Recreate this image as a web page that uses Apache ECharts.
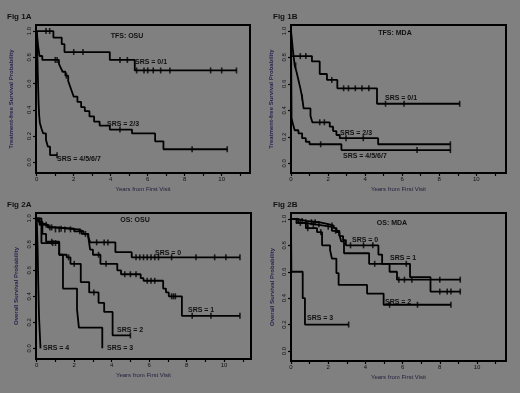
<!DOCTYPE html>
<html>
<head>
<meta charset="utf-8">
<script src="https://cdn.jsdelivr.net/npm/echarts@6/dist/echarts.min.js"></script>
<style>
    html, body { margin: 0; padding: 0; background: #808080; }
    #km-chart { width: 520px; height: 393px; }
</style>
</head>
<body>
<div id="km-chart"></div>
<script>
// tick values
const xTicks = [0, 1, 2, 3, 4, 5, 6, 7, 8, 9, 10, 11];
const xLabels = [0, 2, 4, 6, 8, 10];
const yTicks = [0, 0.2, 0.4, 0.6, 0.8, 1.0];

// Fig 1A - TFS: OSU  ([years, survival])
const tfsOsuSrs01 = [[0,1],[0.9,0.95],[1.35,0.90],[1.5,0.84],[3.95,0.78],[5.3,0.70],[10.8,0.70]];
const tfsOsuSrs01Cens = [0.5,0.7,2.0,2.5,4.5,4.9,5.4,5.8,6.0,6.3,6.7,7.2,9.4,10.0,10.8];
const tfsOsuSrs23 = [[0,1],[0.03,0.95],[0.08,0.88],[0.15,0.81],[0.3,0.78],[1.2,0.75],[1.3,0.72],[1.4,0.69],[1.55,0.66],[1.7,0.62],[1.8,0.58],[1.9,0.54],[2.0,0.50],[2.2,0.46],[2.4,0.42],[2.6,0.39],[2.85,0.35],[3.1,0.31],[3.4,0.28],[3.95,0.25],[5.15,0.22],[6.4,0.16],[6.85,0.10],[10.3,0.10]];
const tfsOsuSrs23Cens = [1.0,1.1,1.6,4.5,8.4,10.3];
const tfsOsuSrs4567 = [[0,1],[0.02,0.9],[0.04,0.78],[0.06,0.66],[0.08,0.55],[0.1,0.45],[0.13,0.36],[0.17,0.30],[0.25,0.26],[0.35,0.22],[0.5,0.17],[0.6,0.12],[0.72,0.055],[1.1,0.055]];
const tfsOsuSrs4567Cens = [1.1];

// Fig 1B - TFS: MDA
const tfsMdaSrs01 = [[0,1],[0.03,0.81],[1.13,0.77],[1.55,0.675],[1.94,0.63],[2.5,0.567],[4.64,0.45],[9.1,0.45]];
const tfsMdaSrs01Cens = [0.5,0.8,2.2,2.84,3.1,3.47,3.83,4.2,5.1,6.1,9.1];
const tfsMdaSrs23 = [[0,1],[0.1,0.86],[0.2,0.74],[0.3,0.69],[0.4,0.63],[0.5,0.57],[0.6,0.50],[0.68,0.415],[1.05,0.36],[1.15,0.31],[2.09,0.277],[2.27,0.244],[2.45,0.214],[2.63,0.19],[4.7,0.144],[8.6,0.144]];
const tfsMdaSrs23Cens = [0.25,0.6,1.55,1.8,2.97,3.9,8.6];
const tfsMdaSrs4567 = [[0,1],[0.03,0.34],[0.1,0.30],[0.2,0.25],[0.4,0.227],[0.6,0.19],[0.8,0.163],[1.0,0.144],[2.72,0.10],[8.6,0.10]];
const tfsMdaSrs4567Cens = [1.6,6.8,8.6];

// Fig 2A - OS: OSU
const osOsuSrs0 = [[0,1],[0.1,0.98],[0.2,0.96],[0.35,0.95],[0.6,0.93],[0.9,0.915],[2.2,0.90],[2.5,0.88],[2.75,0.86],[2.85,0.815],[4.2,0.74],[5.07,0.70],[10.85,0.70]];
const osOsuSrs0Cens = [0.5,0.7,0.8,1.0,1.2,1.5,1.8,2.3,2.6,3.2,3.6,3.8,5.3,5.5,5.7,5.9,6.1,6.3,6.5,7.2,8.5,9.5,10.1,10.85];
const osOsuSrs1 = [[0,1],[0.1,0.975],[0.3,0.95],[0.6,0.93],[1.0,0.92],[2.0,0.90],[2.4,0.88],[2.75,0.86],[2.85,0.76],[3.0,0.72],[3.4,0.65],[4.3,0.60],[4.5,0.57],[5.55,0.54],[5.7,0.52],[6.75,0.46],[6.9,0.43],[7.05,0.40],[7.75,0.25],[10.85,0.25]];
const osOsuSrs1Cens = [1.3,3.3,3.7,4.7,5.0,5.3,5.9,6.1,6.3,7.2,7.3,7.4,8.3,9.3,10.85];
const osOsuSrs2 = [[0,1],[0.15,0.95],[0.3,0.88],[0.5,0.82],[1.2,0.72],[1.6,0.70],[1.8,0.65],[2.35,0.51],[2.8,0.43],[3.3,0.35],[3.6,0.28],[4.05,0.10],[5.0,0.10]];
const osOsuSrs2Cens = [0.8,1.7,2.0,3.05,5.0];
const osOsuSrs3 = [[0,1],[0.25,0.81],[1.2,0.72],[1.4,0.46],[2.15,0.30],[2.25,0.16],[3.5,0]];
const osOsuSrs3Cens = [0.85,1.0];
const osOsuSrs4 = [[0,1],[0.05,0.75],[0.08,0.5],[0.12,0.25],[0.2,0]];
const osOsuSrs4Cens = [];

// Fig 2B - OS: MDA
const osMdaSrs0 = [[0,1],[0.3,0.985],[0.8,0.975],[1.5,0.96],[2.0,0.95],[2.3,0.93],[2.45,0.90],[2.6,0.87],[2.8,0.84],[2.95,0.80],[4.7,0.73],[4.9,0.66],[5.3,0.60],[5.7,0.54],[9.1,0.54]];
const osMdaSrs0Cens = [0.3,0.6,0.8,1.1,1.3,1.5,2.2,3.2,3.9,4.4,5.8,6.1,6.5,8.0,9.1];
const osMdaSrs1 = [[0,1],[0.4,0.97],[0.7,0.955],[1.5,0.94],[2.2,0.91],[2.6,0.88],[2.7,0.83],[2.85,0.74],[4.2,0.66],[6.4,0.56],[7.5,0.45],[9.1,0.45]];
const osMdaSrs1Cens = [0.5,0.9,1.2,2.0,2.4,4.5,6.2,8.0,8.4,8.6,9.1];
const osMdaSrs2 = [[0,1],[0.3,0.97],[0.8,0.93],[1.4,0.90],[1.67,0.80],[2.1,0.765],[2.2,0.70],[2.44,0.59],[2.56,0.50],[4.09,0.435],[4.98,0.35],[8.6,0.35]];
const osMdaSrs2Cens = [0.9,1.6,5.3,6.8,8.6];
const osMdaSrs3 = [[0,1],[0.02,0.6],[0.63,0.4],[0.75,0.2],[3.1,0.2]];
const osMdaSrs3Cens = [3.1];

const FONT = '"Liberation Sans", Arial, sans-serif';

// KM value at time t (last step at or before t)
function stepAt(curve, t) {
    let s = curve[0][1];
    curve.forEach(p => { if (p[0] <= t) s = p[1]; });
    return s;
}

function xAxisFor(gi, min, max) {
    return {
        type: 'value', gridIndex: gi, min: min, max: max,
        name: 'Years from First Visit', nameLocation: 'middle', nameGap: 13,
        nameTextStyle: { fontSize: 6, color: '#1e1e3a', fontFamily: FONT },
        axisLine: { onZero: false, lineStyle: { color: '#000', width: 2 } },
        axisTick: { customValues: xTicks, length: 3, lineStyle: { color: '#000', width: 1.2 } },
        axisLabel: { customValues: xLabels, fontSize: 6, color: '#111', margin: 3, fontFamily: FONT },
        splitLine: { show: false }
    };
}

function yAxisFor(gi, min, max, name, gap) {
    return {
        type: 'value', gridIndex: gi, min: min, max: max,
        name: name, nameLocation: 'middle', nameGap: gap, nameRotate: 90,
        nameTextStyle: { fontSize: 6, color: '#2c2450', fontFamily: FONT, fontWeight: 'bold' },
        axisLine: { onZero: false, lineStyle: { color: '#000', width: 2 } },
        axisTick: { customValues: yTicks, length: 3, lineStyle: { color: '#000', width: 1.2 } },
        axisLabel: {
            customValues: yTicks, rotate: 90, fontSize: 6, color: '#111', margin: 4, fontFamily: FONT,
            formatter: v => v.toFixed(1)
        },
        splitLine: { show: false }
    };
}

let series = [];
function addCurve(gi, curve, cens) {
    series.push({
        type: 'line', xAxisIndex: gi, yAxisIndex: gi, step: 'end',
        data: curve, showSymbol: false, silent: true,
        lineStyle: { color: '#000', width: 1.8 }
    });
    if (cens.length) {
        series.push({
            type: 'scatter', xAxisIndex: gi, yAxisIndex: gi, silent: true,
            symbol: 'rect', symbolSize: [1.6, 6],
            itemStyle: { color: '#000' },
            data: cens.map(t => [t, stepAt(curve, t)])
        });
    }
}

addCurve(0, tfsOsuSrs01, tfsOsuSrs01Cens);
addCurve(0, tfsOsuSrs23, tfsOsuSrs23Cens);
addCurve(0, tfsOsuSrs4567, tfsOsuSrs4567Cens);
addCurve(1, tfsMdaSrs01, tfsMdaSrs01Cens);
addCurve(1, tfsMdaSrs23, tfsMdaSrs23Cens);
addCurve(1, tfsMdaSrs4567, tfsMdaSrs4567Cens);
addCurve(2, osOsuSrs0, osOsuSrs0Cens);
addCurve(2, osOsuSrs1, osOsuSrs1Cens);
addCurve(2, osOsuSrs2, osOsuSrs2Cens);
addCurve(2, osOsuSrs3, osOsuSrs3Cens);
addCurve(2, osOsuSrs4, osOsuSrs4Cens);
addCurve(3, osMdaSrs0, osMdaSrs0Cens);
addCurve(3, osMdaSrs1, osMdaSrs1Cens);
addCurve(3, osMdaSrs2, osMdaSrs2Cens);
addCurve(3, osMdaSrs3, osMdaSrs3Cens);

// text helpers
function txt(text, x, y, size, align) {
    return {
        type: 'text', x: x, y: y, silent: true,
        style: {
            text: text, fill: '#111', font: 'bold ' + size + 'px ' + FONT,
            textAlign: align || 'left', textVerticalAlign: 'middle'
        }
    };
}

const gridStyle = { show: true, borderColor: '#000', borderWidth: 2, backgroundColor: 'transparent', containLabel: false };

let option = {
    backgroundColor: '#808080',
    animation: false,
    grid: [
        Object.assign({ left: 36, top: 25, width: 214, height: 148 }, gridStyle),
        Object.assign({ left: 291, top: 25, width: 215, height: 148 }, gridStyle),
        Object.assign({ left: 36, top: 213, width: 215, height: 146 }, gridStyle),
        Object.assign({ left: 291, top: 213, width: 215, height: 148 }, gridStyle)
    ],
    xAxis: [
        xAxisFor(0, -0.04, 11.53),
        xAxisFor(1, 0, 11.6),
        xAxisFor(2, -0.04, 11.44),
        xAxisFor(3, 0, 11.56)
    ],
    yAxis: [
        yAxisFor(0, -0.081, 1.046, 'Treatment-free Survival Probability', 22),
        yAxisFor(1, -0.073, 1.045, 'Treatment-free Survival Probability', 17),
        yAxisFor(2, -0.082, 1.041, 'Overall Survival Probability', 17),
        yAxisFor(3, -0.076, 1.045, 'Overall Survival Probability', 16)
    ],
    series: series,
    graphic: [
        txt('Fig 1A', 7, 17, 8), txt('TFS: OSU', 127, 36, 7, 'center'),
        txt('SRS = 0/1', 135, 62, 7), txt('SRS = 2/3', 107, 124, 7), txt('SRS = 4/5/6/7', 57, 159, 7),

        txt('Fig 1B', 273, 17, 8), txt('TFS: MDA', 395, 33, 7, 'center'),
        txt('SRS = 0/1', 385, 98, 7), txt('SRS = 2/3', 340, 133, 7), txt('SRS = 4/5/6/7', 343, 156, 7),

        txt('Fig 2A', 7, 205, 8), txt('OS: OSU', 135, 220, 7, 'center'),
        txt('SRS = 0', 155, 253, 7), txt('SRS = 1', 188, 310, 7), txt('SRS = 2', 117, 330, 7),
        txt('SRS = 3', 107, 348, 7), txt('SRS = 4', 43, 348, 7),

        txt('Fig 2B', 273, 205, 8), txt('OS: MDA', 392, 223, 7, 'center'),
        txt('SRS = 0', 352, 240, 7), txt('SRS = 1', 390, 258, 7), txt('SRS = 2', 385, 302, 7),
        txt('SRS = 3', 307, 318, 7)
    ]
};

let kmChart = echarts.init(document.getElementById('km-chart'));
kmChart.setOption(option);
</script>
</body>
</html>
